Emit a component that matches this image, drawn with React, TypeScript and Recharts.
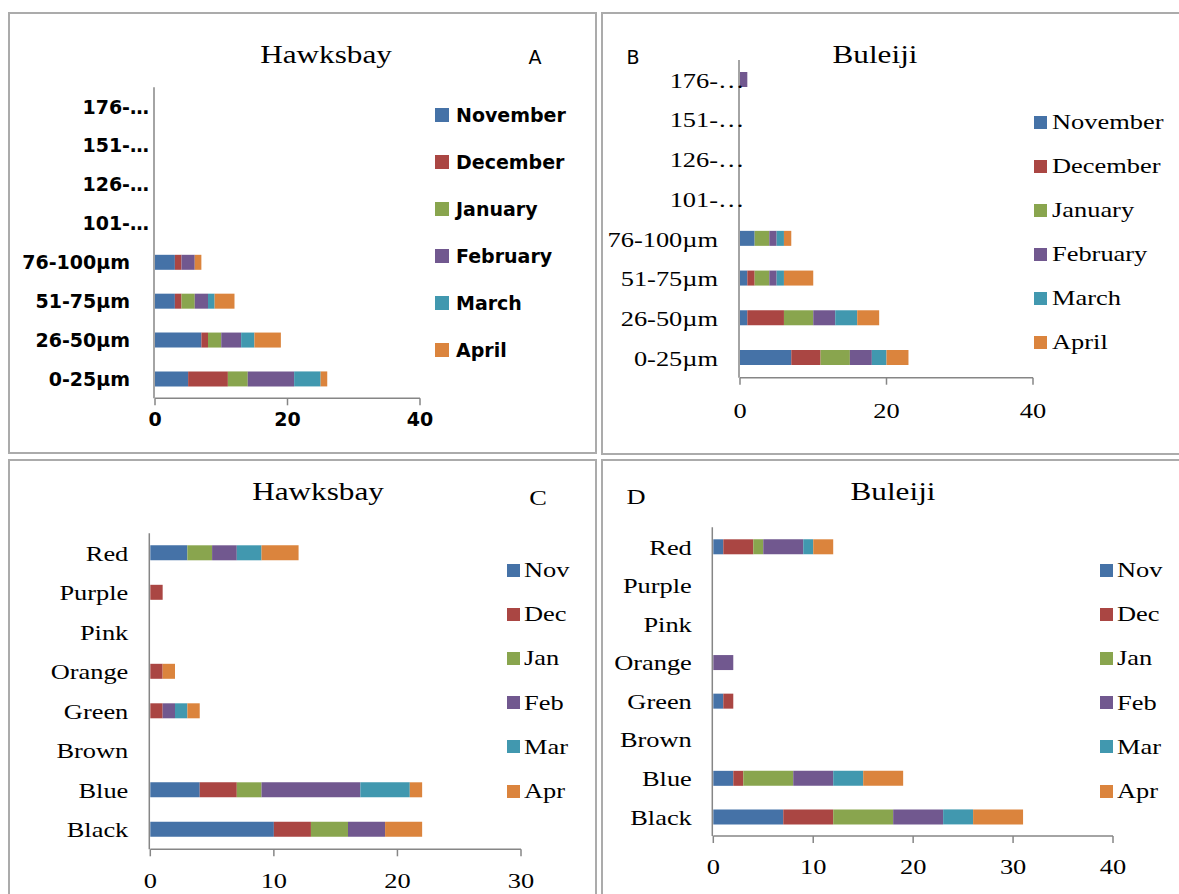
import React from 'react';
import { BarChart, Bar, XAxis, YAxis, Legend } from 'recharts';

// Excel 2007 style series colours
const COLORS = ['#4572A7', '#AA4643', '#89A54E', '#71588F', '#4198AF', '#DB843D'];

const MONTHS_LONG = ['November', 'December', 'January', 'February', 'March', 'April'];
const MONTHS_SHORT = ['Nov', 'Dec', 'Jan', 'Feb', 'Mar', 'Apr'];

// categories listed bottom -> top
const SIZE_CLASSES = ['0-25µm', '26-50µm', '51-75µm', '76-100µm', '101-…', '126-…', '151-…', '176-…'];
const COLOUR_CLASSES = ['Black', 'Blue', 'Brown', 'Green', 'Orange', 'Pink', 'Purple', 'Red'];

// one row per month (Nov..Apr), one value per category
const hawksbaySize = [
  [5, 7, 3, 3, 0, 0, 0, 0],
  [6, 1, 1, 1, 0, 0, 0, 0],
  [3, 2, 2, 0, 0, 0, 0, 0],
  [7, 3, 2, 2, 0, 0, 0, 0],
  [4, 2, 1, 0, 0, 0, 0, 0],
  [1, 4, 3, 1, 0, 0, 0, 0],
];
const buleijiSize = [
  [7, 1, 1, 2, 0, 0, 0, 0],
  [4, 5, 1, 0, 0, 0, 0, 0],
  [4, 4, 2, 2, 0, 0, 0, 0],
  [3, 3, 1, 1, 0, 0, 0, 1],
  [2, 3, 1, 1, 0, 0, 0, 0],
  [3, 3, 4, 1, 0, 0, 0, 0],
];
const hawksbayColour = [
  [10, 4, 0, 0, 0, 0, 0, 3],
  [3, 3, 0, 1, 1, 0, 1, 0],
  [3, 2, 0, 0, 0, 0, 0, 2],
  [3, 8, 0, 1, 0, 0, 0, 2],
  [0, 4, 0, 1, 0, 0, 0, 2],
  [3, 1, 0, 1, 1, 0, 0, 3],
];
const buleijiColour = [
  [7, 2, 0, 1, 0, 0, 0, 1],
  [5, 1, 0, 1, 0, 0, 0, 3],
  [6, 5, 0, 0, 0, 0, 0, 1],
  [5, 4, 0, 0, 2, 0, 0, 4],
  [3, 3, 0, 0, 0, 0, 0, 1],
  [5, 4, 0, 0, 0, 0, 0, 2],
];

const TICKS_40 = [0, 20, 40];
const TICKS_30 = [0, 10, 20, 30];
const TICKS_40_BY_10 = [0, 10, 20, 30, 40];

const AXIS = '#868686';

const SANS = { family: '"DejaVu Sans", sans-serif', size: 19, weight: 700, scale: 1 };
const SERIF = { family: '"Liberation Serif", "Times New Roman", serif', size: 22, weight: 400, scale: 1.2 };

type Font = typeof SANS;

function CatTick({ x, y, payload, font, gap }: any) {
  const label = String(payload.value);
  const cut = label.endsWith('…');
  const base = cut ? label.slice(0, -1) : label;
  const t = { fontFamily: font.family, fontSize: font.size, fontWeight: font.weight, fill: '#000' };
  return (
    <g transform={`translate(${x - gap},${y}) scale(${font.scale},1)`}>
      <text x={0} y={0} dy="0.36em" textAnchor="end" {...t}>{base}</text>
      {cut && <text x={0} y={0} dy="0.36em" textAnchor="start" {...t}>…</text>}
    </g>
  );
}

function NumTick({ x, y, payload, font }: any) {
  return (
    <g transform={`translate(${x},${y}) scale(${font.scale},1)`}>
      <text x={0} y={0} dy="0.72em" textAnchor="middle" fontFamily={font.family}
        fontSize={font.size} fontWeight={font.weight} fill="#000">{payload.value}</text>
    </g>
  );
}

function LegendList({ payload, names, font, row, gap, box }: any) {
  // keep the series order instead of the legend's alphabetical sort
  const items = [...(payload || [])].sort((a: any, b: any) => names.indexOf(a.value) - names.indexOf(b.value));
  return (
    <div>
      {items.map((p: any) => (
        <div key={p.value} style={{ height: row, display: 'flex', alignItems: 'center' }}>
          <span style={{ width: box, height: box, background: p.color, marginRight: gap, flex: 'none' }} />
          <span style={{
            fontFamily: font.family, fontSize: font.size, fontWeight: font.weight, lineHeight: 1,
            color: '#000', whiteSpace: 'nowrap', transform: `scaleX(${font.scale})`, transformOrigin: 'left center',
          }}>{p.value}</span>
        </div>
      ))}
    </div>
  );
}

type PanelProps = {
  box: [number, number, number, number];
  plot: [number, number, number, number]; // left, right, top, bottom (page px)
  cats: string[];
  names: string[];
  values: number[][];
  xMax: number;
  xTicks: number[];
  font: Font;
  labelGap: number;
  tickGap: number;
  legend: { left: number; top: number; row: number; gap: number; box: number };
};

function Panel({ box, plot, cats, names, values, xMax, xTicks, font, labelGap, tickGap, legend }: PanelProps) {
  const [bl, bt, bw, bh] = box;
  const [pl, pr, pt, pb] = plot;
  const rows = cats.map((c, i) => {
    const r: Record<string, number | string> = { cat: c };
    values.forEach((s, k) => { r['m' + k] = s[i]; });
    return r;
  });
  const xh = 30;
  return (
    <div style={{ position: 'absolute', left: bl, top: bt }}>
      <BarChart
        width={bw}
        height={bh}
        data={rows}
        layout="vertical"
        margin={{ top: pt - bt, left: pl - bl - 2, right: bl + bw - pr, bottom: bt + bh - pb - xh }}
      >
        <YAxis yAxisId="grid" type="number" domain={[0, cats.length]} ticks={cats.map((_, i) => i).concat(cats.length)}
          width={1} tick={false} tickSize={8} stroke={AXIS} strokeWidth={1.5} axisLine={{ stroke: AXIS, strokeWidth: 1.5 }} />
        <YAxis yAxisId="cat" type="category" dataKey="cat" reversed width={1} axisLine={false} tickLine={false}
          tickSize={0} tickMargin={0} interval={0} tick={<CatTick font={font} gap={labelGap} />} />
        <XAxis type="number" domain={[0, xMax]} ticks={xTicks} height={xh} tickSize={7} tickMargin={tickGap}
          stroke={AXIS} axisLine={{ stroke: AXIS, strokeWidth: 1.5 }} tickLine={{ stroke: AXIS, strokeWidth: 1.5 }}
          tick={<NumTick font={font} />} />
        {names.map((n, k) => (
          <Bar key={n} yAxisId="cat" dataKey={'m' + k} name={n} stackId="s" fill={COLORS[k]} barSize={15}
            isAnimationActive={false} />
        ))}
        <Legend layout="vertical" align="center" verticalAlign="middle"
          wrapperStyle={{ left: legend.left, top: legend.top, width: 'auto', height: 'auto' }}
          content={(p: any) => (
            <LegendList payload={p.payload} names={names} font={font} row={legend.row} gap={legend.gap} box={legend.box} />
          )} />
      </BarChart>
    </div>
  );
}

function Label({ x, y, text, font, size }: { x: number; y: number; text: string; font: Font; size: number }) {
  return (
    <div style={{
      position: 'absolute', left: x, top: y, transform: `translate(-50%,-50%) scaleX(${font.scale})`,
      fontFamily: font.family, fontSize: size, fontWeight: 400, lineHeight: 1, whiteSpace: 'nowrap', color: '#000',
    }}>{text}</div>
  );
}

const frame = (l: number, t: number, w: number, h: number): React.CSSProperties => ({
  position: 'absolute', left: l, top: t, width: w, height: h, border: '2px solid #ababab', boxSizing: 'border-box',
});

export default function App() {
  return (
    <div style={{ position: 'absolute', left: 0, top: 0, width: 1179, height: 894, overflow: 'hidden', background: '#fff' }}>
      <div style={frame(8, 12, 589, 442)} />
      <div style={frame(601, 12, 600, 443)} />
      <div style={frame(8, 459, 589, 460)} />
      <div style={frame(601, 459, 600, 460)} />

      <Panel box={[8, 12, 589, 442]} plot={[155, 420, 87.3, 398.3]} cats={SIZE_CLASSES} names={MONTHS_LONG}
        values={hawksbaySize} xMax={40} xTicks={TICKS_40} font={SANS} labelGap={25} tickGap={7}
        legend={{ left: 427, top: 79.5, row: 47, gap: 7, box: 14 }} />
      <Panel box={[601, 12, 578, 443]} plot={[740, 1033, 60, 377.7]} cats={SIZE_CLASSES} names={MONTHS_LONG}
        values={buleijiSize} xMax={40} xTicks={TICKS_40} font={SERIF} labelGap={22} tickGap={17}
        legend={{ left: 433, top: 88.3, row: 44, gap: 5, box: 13 }} />
      <Panel box={[8, 459, 589, 435]} plot={[150.3, 521, 533.3, 849.3]} cats={COLOUR_CLASSES} names={MONTHS_SHORT}
        values={hawksbayColour} xMax={30} xTicks={TICKS_30} font={SERIF} labelGap={22} tickGap={16}
        legend={{ left: 498.7, top: 89, row: 44.2, gap: 4, box: 13 }} />
      <Panel box={[601, 459, 578, 435]} plot={[713.3, 1113, 527.3, 836]} cats={COLOUR_CLASSES} names={MONTHS_SHORT}
        values={buleijiColour} xMax={40} xTicks={TICKS_40_BY_10} font={SERIF} labelGap={21.5} tickGap={15}
        legend={{ left: 499, top: 89, row: 44.2, gap: 4, box: 13 }} />

      <Label x={326} y={55} text="Hawksbay" font={SERIF} size={26} />
      <Label x={535} y={57} text="A" font={{ ...SANS, scale: 1 }} size={19} />
      <Label x={875} y={55} text="Buleiji" font={SERIF} size={26} />
      <Label x={633} y={57} text="B" font={{ ...SANS, scale: 1 }} size={19} />
      <Label x={318} y={492} text="Hawksbay" font={SERIF} size={26} />
      <Label x={538} y={498} text="C" font={SERIF} size={22} />
      <Label x={893} y={492} text="Buleiji" font={SERIF} size={26} />
      <Label x={636} y={497} text="D" font={SERIF} size={22} />
    </div>
  );
}
